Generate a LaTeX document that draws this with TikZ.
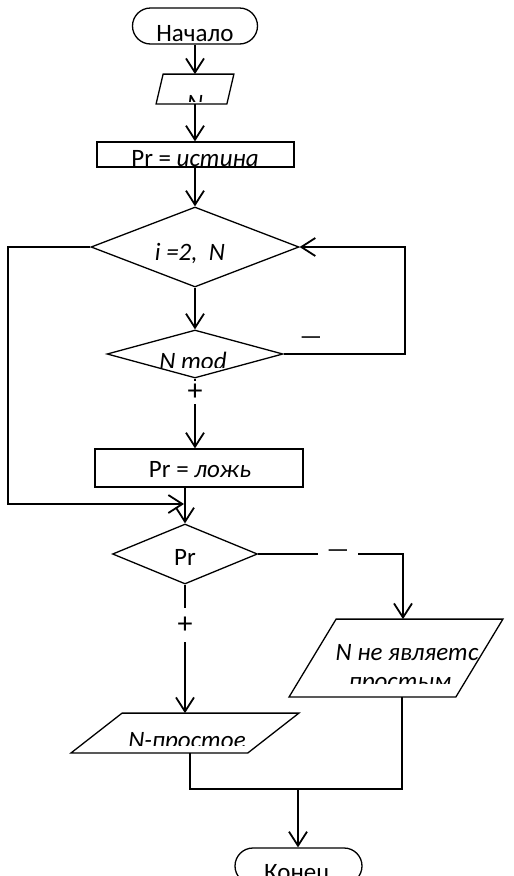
\documentclass[tikz,border=0pt]{standalone}
\usepackage{fontspec}
\setmainfont{Carlito}
\usetikzlibrary{shapes.geometric,shapes.misc,arrows.meta}
\begin{document}
\begin{tikzpicture}[x=1pt,y=-1pt,
  line width=1.8pt,
  outl/.style={draw, line width=1.3pt},
  shp/.style={draw, line width=1.3pt, inner sep=0pt},
  term/.style={shp, rounded rectangle, minimum width=125pt, minimum height=36pt},
  box/.style={shp, rectangle},
  dia/.style={shp, diamond},
  para/.style={draw=none, rectangle, inner sep=0pt},
  txt/.style={inner sep=0pt, font=\fontsize{25pt}{28pt}\selectfont},
  lbl/.style={fill=white, inner xsep=1pt, font=\fontsize{30pt}{32pt}\selectfont},
  arr/.style={-{Straight Barb[length=14pt,width=18pt]}}
]
\useasboundingbox (0,0) rectangle (514,876);
\clip (0,0) rectangle (514,876);

% shapes
\node[term] (start) at (195,26) {};
\node[para, minimum width=76pt, minimum height=28pt] (in1) at (195,89) {};
\node[box, minimum width=197pt, minimum height=25pt] (r1) at (195.5,154.5) {};
\node[dia, minimum width=208pt, minimum height=80pt] (d1) at (195,247) {};
\node[dia, minimum width=176pt, minimum height=48pt] (d2) at (195,354) {};
\node[box, minimum width=208pt, minimum height=38pt] (r2) at (199,468) {};
\coordinate (j1) at (184,504);
\node[dia, minimum width=145pt, minimum height=60pt] (d3) at (185,554) {};
\node[para, minimum width=212pt, minimum height=76pt] (out2) at (396,658) {};
\node[para, minimum width=226pt, minimum height=38pt] (out1) at (185,733) {};
\coordinate (j2) at (298,789);
\node[term, minimum width=127pt] (stop) at (298.5,866) {};

% parallelogram outlines
\draw[outl] ([xshift=7pt]in1.north west) -- (in1.north east) -- ([xshift=-7pt]in1.south east) -- (in1.south west) -- cycle;
\draw[outl] ([xshift=47pt]out2.north west) -- (out2.north east) -- ([xshift=-47pt]out2.south east) -- (out2.south west) -- cycle;
\draw[outl] ([xshift=51pt]out1.north west) -- (out1.north east) -- ([xshift=-51pt]out1.south east) -- (out1.south west) -- cycle;

% texts
\node[txt, anchor=base] (tstart) at (195,41) {Начало};
\begin{scope}
  \clip (150,75) rectangle (240,101);
  \node[txt, anchor=north] (tin1) at (195,95) {\itshape N};
\end{scope}
\node[txt, anchor=base] (tr1) at (195,166) {Pr = \textit{истина}};
\node[txt, anchor=base] (td1) at (190,260) {\itshape i =2,\ \ N};
\begin{scope}
  \clip (100,330) rectangle (290,367);
  \node[txt, anchor=north] (td2) at (193,351) {\itshape N mod};
\end{scope}
\node[txt, anchor=base] (tr2) at (200,477) {Pr = \textit{ложь}};
\node[txt, anchor=base] (td3) at (185,565) {Pr};
\node[txt, anchor=base] (to2a) at (407,660) {\itshape N не являетс};
\begin{scope}
  \clip (290,620) rectangle (510,683);
  \node[txt, anchor=base] (to2b) at (400,689) {\itshape простым};
\end{scope}
\begin{scope}
  \clip (60,714) rectangle (310,745);
  \node[txt, anchor=base] (to1) at (187,748) {\itshape N-простое};
\end{scope}
\node[txt, anchor=base] (tstop) at (297,880) {Конец};
\node[txt] (m1) at (311,341) {—};

% connectors
\draw[arr] (start.south) -- (start.south |- in1.north);
\draw[arr] (in1.south) -- (in1.south |- r1.north);
\draw[arr] (d1.north |- r1.south) -- (d1.north);
\draw[arr] (d1.south) -- (d1.south |- d2.north);
\draw[arr] (d2.east) -- ++(121,0) |- (d1.east);
\draw[arr] (d1.west) -- ++(-82,0) |- (j1);
\draw[arr] (d2.south) -- node[lbl, pos=0.2, inner ysep=3pt] (p1) {+} (d2.south |- r2.north);
\draw[arr] (d3.north |- r2.south) -- (d3.north);
\coordinate (c3) at ([xshift=7pt]out2.north |- d3.east);
\draw[arr] (d3.east) -- node[lbl, pos=0.55, inner xsep=9pt, font=\fontsize{25pt}{28pt}\selectfont] (m2) {—} (c3) -- ([xshift=7pt]out2.north);
\draw[arr] (d3.south) -- node[lbl, pos=0.315, inner ysep=9pt] (p2) {+} (d3.south |- out1.north);
\draw ([xshift=5pt]out1.south) |- (j2) -| ([xshift=6pt]out2.south);
\draw[arr] (j2) -- (j2 |- stop.north);
\end{tikzpicture}
\end{document}
